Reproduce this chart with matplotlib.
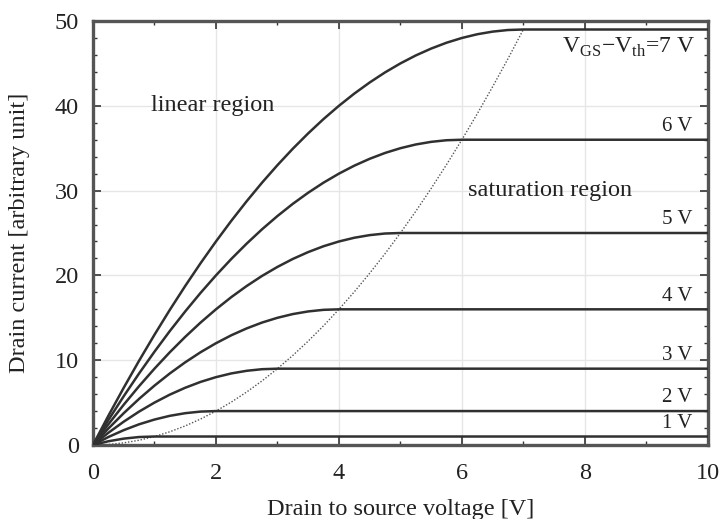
import matplotlib.pyplot as plt
from matplotlib.ticker import MultipleLocator

plt.rcParams['font.family'] = ['Liberation Serif', 'DejaVu Serif']
plt.rcParams['mathtext.fontset'] = 'custom'
plt.rcParams['mathtext.rm'] = 'Liberation Serif'

# drain-source voltage samples [V] (linear part); every curve runs flat to 10 V
vds = [0, 0.25, 0.5, 0.75, 1, 1.25, 1.5, 1.75, 2, 2.25, 2.5, 2.75, 3, 3.25, 3.5,
       3.75, 4, 4.25, 4.5, 4.75, 5, 5.25, 5.5, 5.75, 6, 6.25, 6.5, 6.75, 7]
vds_end = 10

# drain current for each overdrive voltage (V_GS - V_th), up to its knee
overdrive = [1, 2, 3, 4, 5, 6, 7]
i_1v = [0, 0.44, 0.75, 0.94, 1]
i_2v = [0, 0.94, 1.75, 2.44, 3, 3.44, 3.75, 3.94, 4]
i_3v = [0, 1.44, 2.75, 3.94, 5, 5.94, 6.75, 7.44, 8, 8.44, 8.75, 8.94, 9]
i_4v = [0, 1.94, 3.75, 5.44, 7, 8.44, 9.75, 10.94, 12, 12.94, 13.75, 14.44, 15,
        15.44, 15.75, 15.94, 16]
i_5v = [0, 2.44, 4.75, 6.94, 9, 10.94, 12.75, 14.44, 16, 17.44, 18.75, 19.94, 21,
        21.94, 22.75, 23.44, 24, 24.44, 24.75, 24.94, 25]
i_6v = [0, 2.94, 5.75, 8.44, 11, 13.44, 15.75, 17.94, 20, 21.94, 23.75, 25.44, 27,
        28.44, 29.75, 30.94, 32, 32.94, 33.75, 34.44, 35, 35.44, 35.75, 35.94, 36]
i_7v = [0, 3.44, 6.75, 9.94, 13, 15.94, 18.75, 21.44, 24, 26.44, 28.75, 30.94, 33,
        34.94, 36.75, 38.44, 40, 41.44, 42.75, 43.94, 45, 45.94, 46.75, 47.44, 48,
        48.44, 48.75, 48.94, 49]
currents = [i_1v, i_2v, i_3v, i_4v, i_5v, i_6v, i_7v]

# boundary between linear and saturation region
i_sat = [0, 0.06, 0.25, 0.56, 1, 1.56, 2.25, 3.06, 4, 5.06, 6.25, 7.56, 9, 10.56,
         12.25, 14.06, 16, 18.06, 20.25, 22.56, 25, 27.56, 30.25, 33.06, 36, 39.06,
         42.25, 45.56, 49]

labels = ["1 V", "2 V", "3 V", "4 V", "5 V", "6 V",
          r"V$_{\mathrm{GS}}$$-$V$_{\mathrm{th}}$=7 V"]

fig = plt.figure(figsize=(7.23, 5.19), dpi=100)
ax = fig.add_axes([0.1286, 0.1426, 0.979 - 0.1286, 0.9595 - 0.1426])

txt = "#222222"
for vov, cur, lab in zip(overdrive, currents, labels):
    xs = vds[:len(cur)] + [vds_end]
    ys = cur + [cur[-1]]
    ax.plot(xs, ys, color="#303030", linewidth=1.8, zorder=3)
    if vov == 7:
        ax.text(9.8, cur[-1] - 0.7, lab, ha="right", va="top", fontsize=17, color=txt)
    else:
        ax.text(9.75, cur[-1] + 0.45, lab, ha="right", va="bottom", fontsize=15, color=txt)

ax.plot(vds, i_sat, color="#555555", linestyle=(0, (1, 1.3)), linewidth=1.0, zorder=2)

ax.text(0.95, 40, "linear region", ha="left", va="center", fontsize=17.5, color=txt)
ax.text(6.1, 30, "saturation region", ha="left", va="center", fontsize=17.5, color=txt)

ax.set_xlim(0, 10)
ax.set_ylim(0, 50)
ax.xaxis.set_major_locator(MultipleLocator(2))
ax.xaxis.set_minor_locator(MultipleLocator(1))
ax.yaxis.set_major_locator(MultipleLocator(10))
ax.yaxis.set_minor_locator(MultipleLocator(2))
ax.tick_params(which="both", direction="in", top=True, right=True, colors="#333333",
               labelcolor=txt, labelsize=17.5)
ax.tick_params(which="major", length=6, width=1.2)
ax.tick_params(which="minor", length=3, width=1.0)
ax.tick_params(axis="x", which="both", pad=13)
ax.tick_params(axis="y", which="both", pad=10)
ax.grid(True, which="major", color="#e6e6e6", linewidth=1.0, zorder=0)
for s in ax.spines.values():
    s.set_linewidth(2.4)
    s.set_color("#555555")

ax.set_xlabel("Drain to source voltage [V]", fontsize=17.5, color=txt)
ax.set_ylabel("Drain current [arbitrary unit]", fontsize=17.5, color=txt)
ax.xaxis.set_label_coords(0.5, -0.128)
ax.yaxis.set_label_coords(-0.103, 0.5)

fig.savefig("out.png", dpi=100)
